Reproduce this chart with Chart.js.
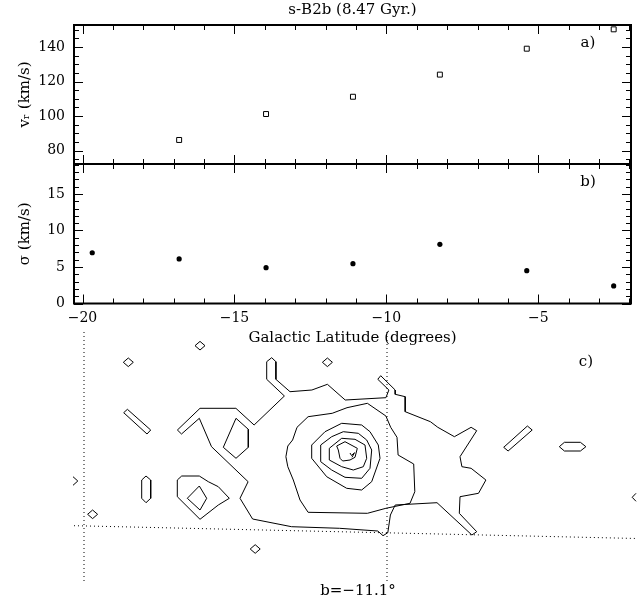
<!DOCTYPE html>
<html>
<head>
<meta charset="utf-8">
<script src="https://cdn.jsdelivr.net/npm/chart.js@4.4.0/dist/chart.umd.min.js"></script>
<style>
  body { margin: 0; background: #fff; }
  #wrap { position: relative; width: 637px; height: 605px; }
  canvas { position: absolute; left: 0; }
</style>
</head>
<body>
<div id="wrap">
  <canvas id="velChart" width="637" height="170" style="top:0"></canvas>
  <canvas id="sigChart" width="637" height="190" style="top:158px"></canvas>
  <canvas id="mapChart" width="637" height="285" style="top:320px"></canvas>
</div>
<script>
// latitude of each field (degrees)
const latitude = [-19.68, -16.82, -13.96, -11.10, -8.24, -5.38, -2.52];
// rotation velocity, first field is off the plot
const vr = [null, 86.2, 101.2, 111.2, 124.0, 139.0, 150.2];
// velocity dispersion
const sigma = [6.95, 6.1, 4.9, 5.45, 8.1, 4.5, 2.4];

const latRange = [-20.28, -1.95];
const vrRange = [72.3, 152.7];
const sigRange = [0, 19.1];
const latTicks = [-20, -15, -10, -5];
const vrTicks = [80, 100, 120, 140];
const sigTicks = [0, 5, 10, 15];

// panel c contours (map units)
const contourOuter = [[117.4,90],[140,68.3],[175.9,68.3],[194.1,85],[224.4,56],[206.7,39.3],[206.7,21.7],[211.7,17.7],[215.9,21.7],[215.9,39.3],[230,51.7],[251.9,50],[267.4,44.3],[285.2,60],[325.9,57.7],[328.9,50],[317.8,39.3],[320.7,35.7],[335.2,50],[335.2,54.3],[345.2,56.7],[345.2,71.7],[370.4,81.7],[377.8,87.3],[394.4,96.7],[411.1,87.3],[416.7,90.7],[400,116.7],[401.9,126.7],[411.1,128.3],[425.9,140],[418.5,153.3],[400,156.7],[399.3,173.3],[416.7,191.7],[411.9,195],[377,162.7],[335.2,165],[330.4,175],[327.8,192.7],[323,195.7],[317.8,191],[279.6,188.3],[231.5,186.7],[192.6,179],[180,158.3],[188.1,141.7],[151.5,106.7],[139.3,78.3],[121.5,94],[117.4,90]];
const contour2 = [[248.1,76.7],[272.2,73.3],[287,67.7],[307.4,63.3],[325.9,76],[330.7,87.3],[337,97.3],[338.1,115],[353.7,124],[354.8,151.7],[350,163.3],[325.9,168.3],[307.4,173.3],[248.1,172.3],[240,160],[233.3,140],[227.8,126.7],[225.9,116.7],[227.8,106],[232.6,100],[237,87.3],[248.1,76.7]];
const contour3 = [[251.7,105],[265,91.7],[281.7,83.3],[301.7,85],[310,91.7],[318.3,105],[320,118.3],[311.7,141.7],[301.7,150],[286.7,148.3],[266.7,136.7],[251.7,118.3],[251.7,105]];
const contour4 = [[260.7,105],[271.7,96.7],[283.3,91.7],[298.3,93.3],[306.7,100],[311.7,110],[310,128.3],[301.7,138.3],[285,137.3],[271.7,130],[260.7,121.7],[260.7,105]];
const contour5 = [[269.3,108.3],[281.7,98.3],[295,99.3],[305,105],[306.7,118.3],[303.3,126.7],[293.3,130],[281.7,126.7],[269.3,120],[269.3,108.3]];
const contour6 = [[276.7,106],[285,101.7],[297.3,108.3],[295,117.3],[290,120],[282.7,121],[280,118.3],[278.3,110],[276.7,106]];
const peakMark = [[290,113],[291.5,115.5],[294.5,112.7],[292,117.3]];
const lowerLeftLoop = [[117.3,140],[121.7,136],[139.3,136],[148.3,141.7],[158.3,146.7],[169.3,158.3],[158.3,165],[140,179.3],[117.3,156.7],[117.3,140]];
const lowerLeftKite = [[139.3,146],[146.7,158.3],[140,170],[127.3,158.3],[139.3,146]];
const upperHex = [[176,78.3],[188.3,89.3],[188.3,107.3],[176,118.3],[163.3,107.3],[176,78.3]];
const leftBar = [[63.7,72.7],[67.4,69.3],[90.7,90],[87,94],[63.7,72.7]];
const leftHex = [[81.7,140],[86,136],[90.7,140],[90.7,158.3],[86,162.7],[81.7,158.3],[81.7,140]];
const rightBar = [[443.7,107.3],[467.4,86],[472.2,90],[448.1,111],[443.7,107.3]];
const rightHex = [[499.3,106.7],[504.4,102.3],[520.4,102.3],[525.9,106.7],[520.4,111],[504.4,111],[499.3,106.7]];
const diamond1 = [[135,5.7],[140,1.4],[145,5.7],[140,10],[135,5.7]];
const diamond2 = [[63.3,22.3],[68.3,18],[73.3,22.3],[68.3,26.6],[63.3,22.3]];
const diamond3 = [[262.4,22.3],[267.4,18],[272.4,22.3],[267.4,26.6],[262.4,22.3]];
const diamond4 = [[27.6,174.3],[32.6,170],[37.6,174.3],[32.6,178.6],[27.6,174.3]];
const diamond5 = [[190.2,209],[195.2,204.7],[200.2,209],[195.2,213.3],[190.2,209]];
const leftChevron = [[13,136.7],[17.8,141],[13,145.3]];
const rightChevron = [[576,153.3],[572.2,157.3],[576,161.3]];
const dotLeft = [[24,-8],[24,242]];
const dotRight = [[327,-8],[327,242]];
const dotHoriz = [[14,185.7],[577,198.5]];

Chart.defaults.font.family = 'DejaVu Serif';
Chart.defaults.font.size = 15;
Chart.defaults.color = '#000';

function fmt(v) {
    return v < 0 ? '\u2212' + Math.abs(v) : String(v);
}

function fixedTicks(values) {
    return function (s) { s.ticks = values.map(v => ({ value: v })); };
}

// PGPLOT style frame: inward ticks on all sides
const frameTicks = {
    id: 'frameTicks',
    afterDraw(chart, args, opts) {
        const ctx = chart.ctx;
        const a = chart.chartArea;
        const x = chart.scales.x, y = chart.scales.y;
        ctx.save();
        ctx.strokeStyle = '#000';
        ctx.lineWidth = 1;
        ctx.beginPath();
        for (let v = Math.ceil(x.min); v <= x.max; v++) {
            const px = Math.round(x.getPixelForValue(v)) + 0.5;
            const len = v % 5 === 0 ? 9 : 5;
            ctx.moveTo(px, a.bottom); ctx.lineTo(px, a.bottom - len);
            ctx.moveTo(px, a.top); ctx.lineTo(px, a.top + len);
        }
        for (let v = Math.ceil(y.min / opts.yMinor) * opts.yMinor; v <= y.max; v += opts.yMinor) {
            const py = Math.round(y.getPixelForValue(v)) + 0.5;
            const len = v % opts.yMajor === 0 ? 9 : 5;
            ctx.moveTo(a.left, py); ctx.lineTo(a.left + len, py);
            ctx.moveTo(a.right, py); ctx.lineTo(a.right - len, py);
        }
        ctx.stroke();
        ctx.lineWidth = 2;
        ctx.strokeRect(a.left, a.top, a.right - a.left, a.bottom - a.top);
        ctx.fillStyle = '#000';
        ctx.font = '15px "DejaVu Serif"';
        ctx.textAlign = 'center';
        ctx.textBaseline = 'middle';
        ctx.fillText(opts.tag, a.right - 43, a.top + 18);
        if (opts.title) {
            ctx.fillText(opts.title, (a.left + a.right) / 2, 10);
        }
        ctx.restore();
    }
};

function yAxis(range, values, label) {
    return {
        type: 'linear', min: range[0], max: range[1],
        afterBuildTicks: fixedTicks(values),
        afterFit(s) { s.width = 74; s.paddingTop = 0; s.paddingBottom = 0; },
        grid: { display: false, drawTicks: false },
        border: { display: false },
        ticks: { padding: 9, callback: fmt, font: { size: 14 } },
        title: { display: true, text: label, padding: { top: 16, bottom: 0 } }
    };
}

new Chart(document.getElementById('velChart'), {
    type: 'scatter',
    data: {
        datasets: [{
            data: latitude.map((b, i) => ({ x: b, y: vr[i] })),
            pointStyle: 'rect', pointRadius: 3.5, borderWidth: 1,
            borderColor: '#000', backgroundColor: '#fff'
        }]
    },
    options: {
        responsive: false, animation: false,
        layout: { padding: { top: 25, right: 6, bottom: 6, left: 0 } },
        plugins: {
            legend: { display: false }, tooltip: { enabled: false },
            frameTicks: { yMinor: 5, yMajor: 20, tag: 'a)', title: 's-B2b (8.47 Gyr.)' }
        },
        scales: {
            x: { type: 'linear', min: latRange[0], max: latRange[1], display: false },
            y: yAxis(vrRange, vrTicks, 'v\u1D63 (km/s)')
        }
    },
    plugins: [frameTicks]
});

new Chart(document.getElementById('sigChart'), {
    type: 'scatter',
    data: {
        datasets: [{
            data: latitude.map((b, i) => ({ x: b, y: sigma[i] })),
            pointStyle: 'circle', pointRadius: 2.6, borderWidth: 0,
            backgroundColor: '#000'
        }]
    },
    options: {
        responsive: false, animation: false,
        layout: { padding: { top: 6, right: 6, bottom: 0, left: 0 } },
        plugins: {
            legend: { display: false }, tooltip: { enabled: false },
            frameTicks: { yMinor: 1, yMajor: 5, tag: 'b)' }
        },
        scales: {
            x: {
                type: 'linear', min: latRange[0], max: latRange[1],
                afterBuildTicks: fixedTicks(latTicks),
                afterFit(s) { s.height = 44.5; s.paddingLeft = 0; s.paddingRight = 0; },
                grid: { display: false, drawTicks: false },
                border: { display: false },
                ticks: { padding: 6, callback: fmt, font: { size: 14 } },
                title: { display: true, text: 'Galactic Latitude (degrees)', padding: { top: 0, bottom: 1 } }
            },
            y: yAxis(sigRange, sigTicks, '\u03C3 (km/s)')
        }
    },
    plugins: [frameTicks]
});

// panel c: contour map
const mapLines = [
    contourOuter, contour2, contour3, contour4, contour5, contour6, peakMark,
    lowerLeftLoop, lowerLeftKite, upperHex, leftBar, leftHex, rightBar, rightHex,
    diamond1, diamond2, diamond3, diamond4, diamond5, leftChevron, rightChevron
];
const dotted = [dotLeft, dotRight, dotHoriz];

function toPts(arr) {
    return arr.map(p => ({ x: p[0], y: p[1] }));
}

const mapDatasets = mapLines.map(c => ({
    data: toPts(c), showLine: true, pointRadius: 0,
    borderColor: '#000', borderWidth: 1, tension: 0
})).concat(dotted.map(c => ({
    data: toPts(c), showLine: true, pointRadius: 0,
    borderColor: '#000', borderWidth: 1, borderDash: [1, 3]
})));

const mapLabels = {
    id: 'mapLabels',
    afterDraw(chart) {
        const ctx = chart.ctx;
        const x = chart.scales.x, y = chart.scales.y;
        ctx.save();
        ctx.fillStyle = '#000';
        ctx.font = '15px "DejaVu Serif"';
        ctx.textAlign = 'center';
        ctx.textBaseline = 'middle';
        ctx.fillText('c)', x.getPixelForValue(526), y.getPixelForValue(22));
        ctx.fillText('b=\u221211.1\u00B0', x.getPixelForValue(298), y.getPixelForValue(251));
        ctx.restore();
    }
};

new Chart(document.getElementById('mapChart'), {
    type: 'scatter',
    data: { datasets: mapDatasets },
    options: {
        responsive: false, animation: false,
        layout: { padding: 0 },
        plugins: { legend: { display: false }, tooltip: { enabled: false } },
        scales: {
            x: { type: 'linear', min: -60, max: 577, display: false },
            y: { type: 'linear', min: -20, max: 265, reverse: true, display: false }
        }
    },
    plugins: [mapLabels]
});
</script>
</body>
</html>
